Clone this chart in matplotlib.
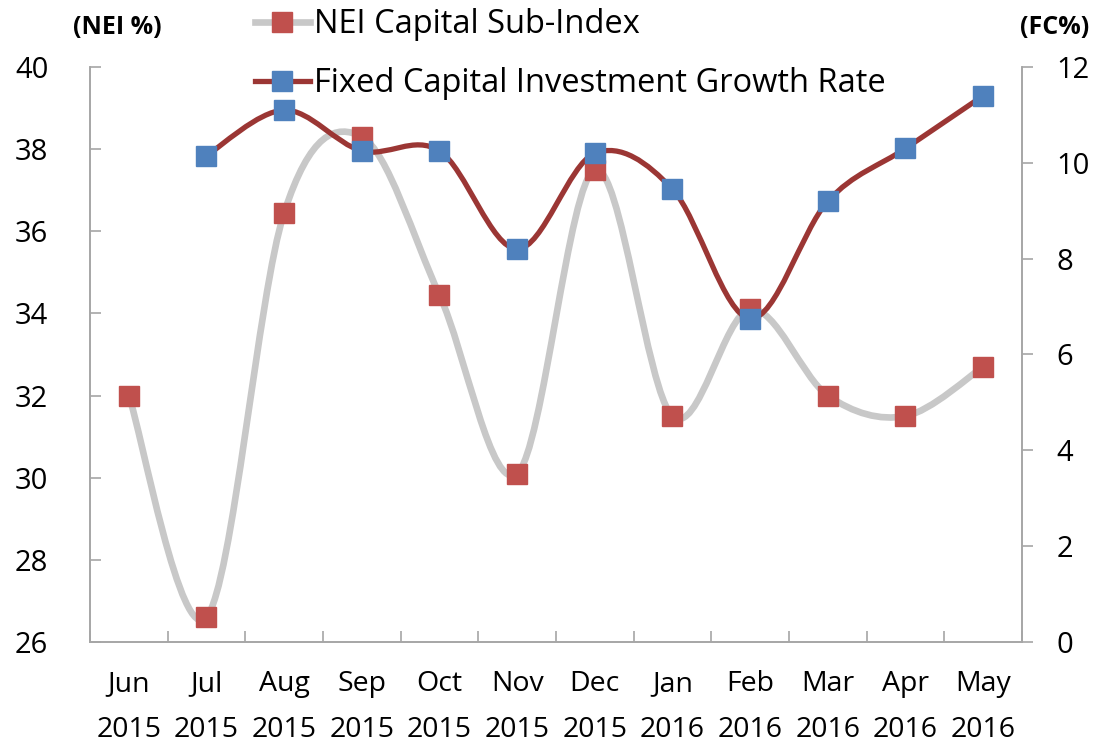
import matplotlib
matplotlib.use("Agg")
import matplotlib.pyplot as plt
from matplotlib.path import Path
from matplotlib.patches import PathPatch
from matplotlib.lines import Line2D

plt.rcParams['font.family'] = ['Open Sans', 'DejaVu Sans']

months = ["Jun", "Jul", "Aug", "Sep", "Oct", "Nov", "Dec", "Jan", "Feb", "Mar", "Apr", "May"]
years = ["2015"] * 7 + ["2016"] * 5
nei = [32.0, 26.6, 36.45, 38.3, 34.45, 30.1, 37.5, 31.5, 34.1, 32.0, 31.5, 32.7]
fc_x = [1, 2, 3, 4, 5, 6, 7, 8, 9, 10, 11]
fc = [10.15, 11.1, 10.25, 10.25, 8.2, 10.2, 9.45, 6.75, 9.2, 10.3, 11.4]

RED = "#C0504D"
BLUE = "#4F81BD"
GREY = "#C8C8C8"
DARKRED = "#9B3634"
SPINE = "#A6A6A6"


def smooth_path(xs, ys):
    # excel-style smoothed line, cubic bezier through the points
    pts = list(zip(xs, ys))
    n = len(pts)
    verts = [pts[0]]
    codes = [Path.MOVETO]
    for i in range(n - 1):
        p0 = pts[i - 1] if i > 0 else pts[i]
        p1 = pts[i]
        p2 = pts[i + 1]
        p3 = pts[i + 2] if i + 2 < n else pts[i + 1]
        c1 = (p1[0] + (p2[0] - p0[0]) / 6, p1[1] + (p2[1] - p0[1]) / 6)
        c2 = (p2[0] - (p3[0] - p1[0]) / 6, p2[1] - (p3[1] - p1[1]) / 6)
        verts += [c1, c2, p2]
        codes += [Path.CURVE4] * 3
    return Path(verts, codes)


fig = plt.figure(figsize=(10.97, 7.47), dpi=100)
ax = fig.add_axes([0.082, 0.1406, 0.8496, 0.7697])
ax2 = ax.twinx()

x = list(range(len(months)))
ax.add_patch(PathPatch(smooth_path(x, nei), facecolor="none", edgecolor=GREY,
                       lw=4.8, capstyle="round", zorder=2))
ax.plot(x, nei, "s", color=RED, ms=14, mec=RED, zorder=3)

ax2.add_patch(PathPatch(smooth_path(fc_x, fc), facecolor="none", edgecolor=DARKRED,
                        lw=3.8, capstyle="round", zorder=2))
ax2.plot(fc_x, fc, "s", color=BLUE, ms=14, mec=BLUE, zorder=3)

ax.set_xlim(-0.5, len(months) - 0.5)
ax.set_ylim(26, 40)
ax2.set_ylim(0, 12)
ax.set_yticks(range(26, 41, 2))
ax2.set_yticks(range(0, 13, 2))

ax.set_xticks(x)
ax.set_xticklabels([m + "\n" + y for m, y in zip(months, years)], linespacing=1.85)
ax.set_xticks([i + 0.5 for i in range(-1, len(months))], minor=True)
ax.tick_params(axis="x", which="major", length=0, pad=20, labelsize=20.5)
ax.tick_params(axis="x", which="minor", direction="in", length=8, color=SPINE, width=1.2)
ax.tick_params(axis="y", direction="in", length=8, color=SPINE, width=1.2, pad=30, labelsize=21)
ax2.tick_params(axis="y", direction="out", length=8, color=SPINE, width=1.2, pad=17, labelsize=21)

for a in (ax, ax2):
    a.spines["top"].set_visible(False)
    for s in ("left", "right", "bottom"):
        a.spines[s].set_color(SPINE)
        a.spines[s].set_linewidth(1.2)

fig.text(0.107, 0.963, "(NEI %)", fontsize=18, fontweight="bold", ha="center", va="center")
fig.text(0.993, 0.963, "(FC%)", fontsize=18, fontweight="bold", ha="right", va="center")

handles = [
    Line2D([], [], color=GREY, lw=4.8, marker="s", ms=14, mfc=RED, mec=RED),
    Line2D([], [], color=DARKRED, lw=3.8, marker="s", ms=14, mfc=BLUE, mec=BLUE),
]
ax2.legend(handles, ["NEI Capital Sub-Index", "Fixed Capital Investment Growth Rate"],
           loc="upper left", bbox_to_anchor=(0.232, 0.989), bbox_transform=fig.transFigure,
           frameon=False, fontsize=23.5, handlelength=1.7, handletextpad=0.12,
           labelspacing=0.8, borderaxespad=0, borderpad=0)

fig.savefig("out.png", dpi=100)
